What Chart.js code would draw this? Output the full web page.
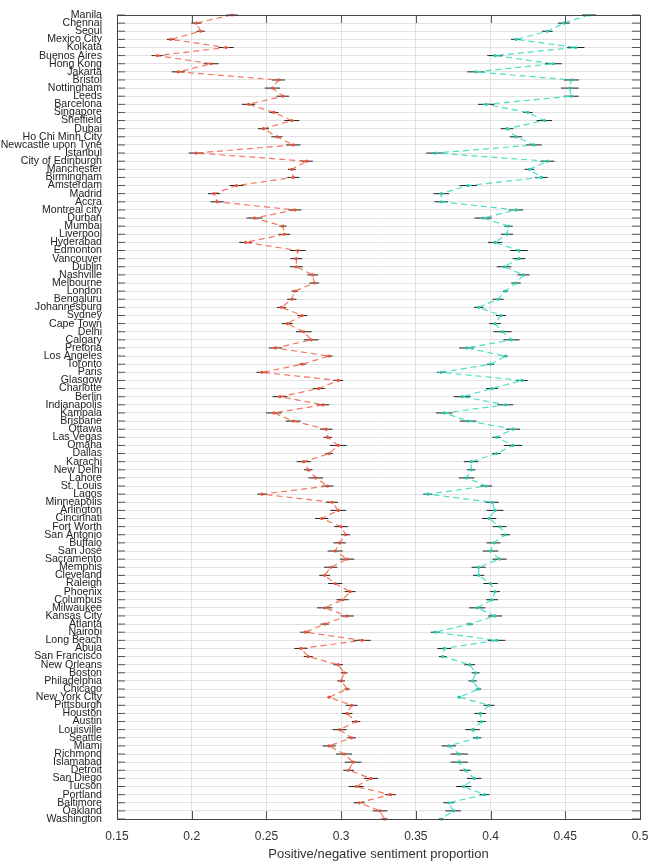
<!DOCTYPE html>
<html>
<head>
<meta charset="utf-8">
<script src="https://cdn.jsdelivr.net/npm/chart.js@4"></script>
<style>
  html, body { margin: 0; padding: 0; background: #fff; }
  #wrap { width: 664px; height: 866px; }
</style>
</head>
<body>
<div id="wrap"><canvas id="sentimentChart"></canvas></div>
<script>
const cities = ['Manila', 'Chennai', 'Seoul', 'Mexico City', 'Kolkata', 'Buenos Aires', 'Hong Kong', 'Jakarta',
    'Bristol', 'Nottingham', 'Leeds', 'Barcelona', 'Singapore', 'Sheffield', 'Dubai', 'Ho Chi Minh City',
    'Newcastle upon Tyne', 'Istanbul', 'City of Edinburgh', 'Manchester', 'Birmingham', 'Amsterdam', 'Madrid', 'Accra',
    'Montreal city', 'Durban', 'Mumbai', 'Liverpool', 'Hyderabad', 'Edmonton', 'Vancouver', 'Dublin',
    'Nashville', 'Melbourne', 'London', 'Bengaluru', 'Johannesburg', 'Sydney', 'Cape Town', 'Delhi',
    'Calgary', 'Pretoria', 'Los Angeles', 'Toronto', 'Paris', 'Glasgow', 'Charlotte', 'Berlin',
    'Indianapolis', 'Kampala', 'Brisbane', 'Ottawa', 'Las Vegas', 'Omaha', 'Dallas', 'Karachi',
    'New Delhi', 'Lahore', 'St. Louis', 'Lagos', 'Minneapolis', 'Arlington', 'Cincinnati', 'Fort Worth',
    'San Antonio', 'Buffalo', 'San José', 'Sacramento', 'Memphis', 'Cleveland', 'Raleigh', 'Phoenix',
    'Columbus', 'Milwaukee', 'Kansas City', 'Atlanta', 'Nairobi', 'Long Beach', 'Abuja', 'San Francisco',
    'New Orleans', 'Boston', 'Philadelphia', 'Chicago', 'New York City', 'Pittsburgh', 'Houston', 'Austin',
    'Louisville', 'Seattle', 'Miami', 'Richmond', 'Islamabad', 'Detroit', 'San Diego', 'Tucson',
    'Portland', 'Baltimore', 'Oakland', 'Washington'];

// red series
const negValues = [0.227, 0.203, 0.206, 0.186, 0.223, 0.177, 0.213, 0.191,
    0.258, 0.254, 0.261, 0.238, 0.255, 0.267, 0.248, 0.257,
    0.268, 0.203, 0.277, 0.267, 0.268, 0.230, 0.215, 0.217,
    0.269, 0.242, 0.261, 0.262, 0.236, 0.271, 0.270, 0.270,
    0.281, 0.282, 0.269, 0.267, 0.260, 0.274, 0.264, 0.275,
    0.280, 0.256, 0.292, 0.274, 0.247, 0.298, 0.285, 0.259,
    0.288, 0.255, 0.268, 0.290, 0.291, 0.298, 0.292, 0.275,
    0.278, 0.283, 0.291, 0.247, 0.294, 0.298, 0.287, 0.300,
    0.303, 0.299, 0.296, 0.304, 0.293, 0.289, 0.296, 0.306,
    0.301, 0.289, 0.304, 0.289, 0.276, 0.314, 0.273, 0.278,
    0.298, 0.302, 0.300, 0.304, 0.292, 0.307, 0.304, 0.310,
    0.299, 0.307, 0.292, 0.302, 0.308, 0.305, 0.320, 0.310,
    0.333, 0.312, 0.326, 0.329];
const negErr = [0.0038, 0.0033, 0.0028, 0.0026, 0.0050, 0.0039, 0.0050, 0.0044,
    0.0044, 0.0051, 0.0042, 0.0044, 0.0030, 0.0050, 0.0036, 0.0037,
    0.0048, 0.0050, 0.0041, 0.0026, 0.0040, 0.0047, 0.0041, 0.0044,
    0.0044, 0.0053, 0.0024, 0.0039, 0.0042, 0.0052, 0.0040, 0.0043,
    0.0036, 0.0033, 0.0022, 0.0031, 0.0030, 0.0033, 0.0037, 0.0053,
    0.0050, 0.0044, 0.0022, 0.0022, 0.0037, 0.0033, 0.0039, 0.0049,
    0.0041, 0.0052, 0.0050, 0.0042, 0.0028, 0.0056, 0.0024, 0.0047,
    0.0028, 0.0049, 0.0039, 0.0031, 0.0039, 0.0052, 0.0044, 0.0047,
    0.0030, 0.0041, 0.0050, 0.0048, 0.0044, 0.0036, 0.0047, 0.0036,
    0.0041, 0.0051, 0.0044, 0.0028, 0.0033, 0.0058, 0.0044, 0.0030,
    0.0032, 0.0022, 0.0026, 0.0017, 0.0011, 0.0039, 0.0036, 0.0028,
    0.0047, 0.0029, 0.0044, 0.0053, 0.0056, 0.0036, 0.0047, 0.0050,
    0.0036, 0.0037, 0.0050, 0.0022];

// teal series
const posValues = [0.466, 0.449, 0.438, 0.417, 0.457, 0.403, 0.442, 0.390,
    0.454, 0.453, 0.454, 0.397, 0.425, 0.436, 0.411, 0.417,
    0.429, 0.363, 0.438, 0.426, 0.434, 0.385, 0.367, 0.367,
    0.417, 0.395, 0.412, 0.411, 0.403, 0.419, 0.419, 0.409,
    0.422, 0.417, 0.410, 0.405, 0.392, 0.407, 0.403, 0.408,
    0.414, 0.384, 0.410, 0.400, 0.367, 0.421, 0.401, 0.381,
    0.410, 0.369, 0.385, 0.415, 0.404, 0.415, 0.404, 0.387,
    0.387, 0.384, 0.397, 0.358, 0.401, 0.403, 0.399, 0.406,
    0.410, 0.402, 0.400, 0.406, 0.392, 0.392, 0.400, 0.403,
    0.401, 0.391, 0.403, 0.386, 0.363, 0.404, 0.369, 0.368,
    0.386, 0.390, 0.388, 0.392, 0.379, 0.399, 0.393, 0.394,
    0.388, 0.391, 0.372, 0.379, 0.379, 0.383, 0.389, 0.382,
    0.396, 0.372, 0.375, 0.367];
const posErr = [0.0047, 0.0039, 0.0036, 0.0033, 0.0058, 0.0052, 0.0056, 0.0056,
    0.0051, 0.0059, 0.0050, 0.0054, 0.0031, 0.0052, 0.0042, 0.0042,
    0.0052, 0.0060, 0.0047, 0.0032, 0.0042, 0.0058, 0.0052, 0.0045,
    0.0048, 0.0058, 0.0028, 0.0041, 0.0048, 0.0059, 0.0042, 0.0049,
    0.0040, 0.0032, 0.0017, 0.0037, 0.0031, 0.0033, 0.0039, 0.0061,
    0.0054, 0.0050, 0.0015, 0.0025, 0.0029, 0.0039, 0.0039, 0.0057,
    0.0052, 0.0056, 0.0056, 0.0048, 0.0028, 0.0061, 0.0028, 0.0049,
    0.0028, 0.0052, 0.0040, 0.0031, 0.0045, 0.0056, 0.0048, 0.0047,
    0.0031, 0.0047, 0.0052, 0.0047, 0.0047, 0.0037, 0.0048, 0.0033,
    0.0039, 0.0054, 0.0047, 0.0022, 0.0030, 0.0059, 0.0046, 0.0026,
    0.0036, 0.0027, 0.0028, 0.0017, 0.0011, 0.0037, 0.0039, 0.0029,
    0.0049, 0.0028, 0.0048, 0.0058, 0.0058, 0.0037, 0.0048, 0.0051,
    0.0033, 0.0037, 0.0052, 0.0017];

const xTicks = [0.15, 0.2, 0.25, 0.3, 0.35, 0.4, 0.45, 0.5];
const xTickLabels = ['0.15', '0.2', '0.25', '0.3', '0.35', '0.4', '0.45', '0.5'];

const errors = [negErr, posErr];

// horizontal error bars, drawn under the dashed lines
const errorBars = {
    id: 'errorBars',
    beforeDatasetsDraw(chart) {
        const ctx = chart.ctx;
        const xs = chart.scales.x, ys = chart.scales.y;
        ctx.save();
        ctx.strokeStyle = '#222';
        ctx.lineWidth = 1;
        chart.data.datasets.forEach((ds, d) => {
            ds.data.forEach((v, i) => {
                const e = errors[d][i];
                const y = ys.getPixelForValue(i);
                ctx.beginPath();
                ctx.moveTo(xs.getPixelForValue(v - e), y);
                ctx.lineTo(xs.getPixelForValue(v + e), y);
                ctx.stroke();
            });
        });
        ctx.restore();
    }
};

// box with inward ticks
const frame = {
    id: 'frame',
    afterDraw(chart) {
        const ctx = chart.ctx;
        const a = chart.chartArea;
        const xs = chart.scales.x, ys = chart.scales.y;
        const len = 8;
        ctx.save();
        ctx.strokeStyle = '#555';
        ctx.lineWidth = 1;
        ctx.beginPath();
        xs.ticks.forEach(t => {
            const px = Math.round(xs.getPixelForValue(t.value)) + 0.5;
            ctx.moveTo(px, a.bottom); ctx.lineTo(px, a.bottom - len);
            ctx.moveTo(px, a.top); ctx.lineTo(px, a.top + len);
        });
        cities.forEach((c, i) => {
            const py = ys.getPixelForValue(i);
            ctx.moveTo(a.left, py); ctx.lineTo(a.left + len, py);
            ctx.moveTo(a.right, py); ctx.lineTo(a.right - len, py);
        });
        ctx.stroke();
        ctx.strokeStyle = '#444';
        ctx.strokeRect(Math.round(a.left) + 0.5, Math.round(a.top) + 0.5,
            Math.round(a.right - a.left), Math.round(a.bottom - a.top));
        ctx.restore();
    }
};

const ctx = document.getElementById('sentimentChart').getContext('2d');
const sentimentChart = new Chart(ctx, {
    type: 'line',
    data: {
        labels: cities,
        datasets: [{
            label: 'Negative',
            data: negValues,
            borderColor: 'rgba(240, 95, 65, 0.85)',
            backgroundColor: 'rgb(238, 80, 50)',
            borderWidth: 1.2,
            borderDash: [6, 4],
            pointRadius: 1.6,
            pointBorderWidth: 0,
            tension: 0
        }, {
            label: 'Positive',
            data: posValues,
            borderColor: 'rgba(55, 220, 190, 0.9)',
            backgroundColor: 'rgb(35, 200, 175)',
            borderWidth: 1.2,
            borderDash: [6, 4],
            pointRadius: 1.6,
            pointBorderWidth: 0,
            tension: 0
        }]
    },
    options: {
        indexAxis: 'y',
        responsive: true,
        maintainAspectRatio: false,
        animation: false,
        layout: { padding: { left: 0, right: 24, top: 15, bottom: 4 } },
        plugins: {
            legend: { display: false },
            tooltip: { enabled: false }
        },
        scales: {
            x: {
                type: 'linear',
                min: 0.15,
                max: 0.5,
                afterBuildTicks: scale => { scale.ticks = xTicks.map(v => ({ value: v })); },
                afterFit: scale => { scale.height = 43; scale.paddingLeft = 0; scale.paddingRight = 0; },
                grid: { color: '#e2e2e2', drawTicks: false },
                border: { display: false },
                ticks: {
                    padding: 10,
                    color: '#333',
                    font: { family: 'Liberation Sans', size: 12 },
                    callback: (v, i) => xTickLabels[i]
                },
                title: {
                    display: true,
                    text: 'Positive/negative sentiment proportion',
                    color: '#333',
                    padding: { top: 0, bottom: 0 },
                    font: { family: 'Liberation Sans', size: 13 }
                }
            },
            y: {
                type: 'category',
                offset: false,
                afterFit: scale => { scale.width = 117; scale.paddingTop = 0; scale.paddingBottom = 0; },
                grid: { color: '#e2e2e2', drawTicks: false },
                border: { display: false },
                ticks: {
                    autoSkip: false,
                    padding: 15,
                    color: '#222',
                    font: { family: 'Liberation Sans', size: 10.6 }
                }
            }
        }
    },
    plugins: [errorBars, frame]
});
</script>
</body>
</html>
